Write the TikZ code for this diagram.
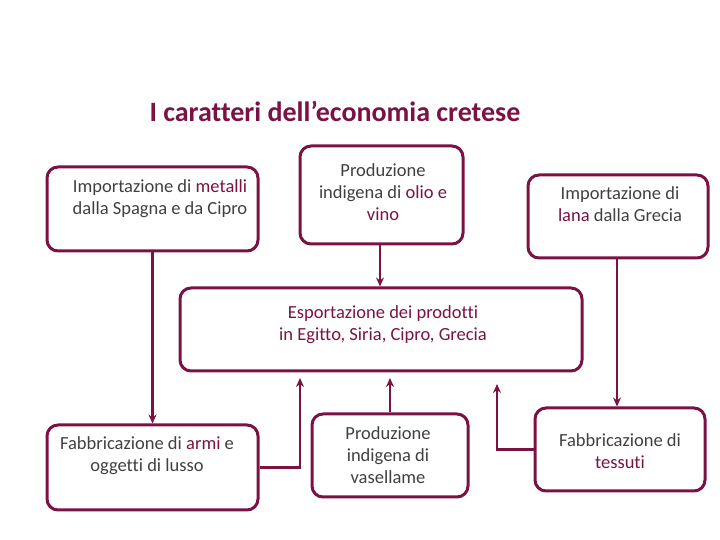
\documentclass[tikz,border=0pt]{standalone}
\usepackage{fontspec}
\setmainfont[Ligatures=NoCommon]{Carlito}
\usetikzlibrary{arrows.meta,calc}
\definecolor{maroon}{HTML}{7A1343}
\definecolor{txtgrey}{HTML}{404040}
\begin{document}
\begin{tikzpicture}[x=1pt,y=1pt,
  box/.style={draw=maroon,line width=3pt,rounded corners=11pt,inner sep=0pt},
  txt/.style={text=txtgrey,font=\fontsize{18.5}{22}\selectfont,align=center,inner sep=0pt},
  arr/.style={draw=maroon,line width=2.2pt,-{Stealth[length=9pt,width=8pt]}}]
\useasboundingbox (0,0) rectangle (720,540);
\newcommand{\hw}[1]{\textcolor{maroon}{#1}}
% title
\node[text=maroon,font=\fontsize{28}{32}\bfseries\selectfont,inner sep=0pt] (title) at (335,429) {I caratteri dell’economia cretese};
% boxes
\node[box,minimum width=211,minimum height=84] (A) at (152.5,331) {};
\node[box,minimum width=163,minimum height=98] (B) at (381.5,345) {};
\node[box,minimum width=180,minimum height=83] (C) at (618,323.5) {};
\node[box,minimum width=402,minimum height=83] (D) at (381,210.5) {};
\node[box,minimum width=211,minimum height=85] (E) at (152.5,72.5) {};
\node[box,minimum width=156,minimum height=83] (F) at (390,84.5) {};
\node[box,minimum width=170,minimum height=83] (G) at (620,90.5) {};
% texts
\node[txt] (At) at (160,341) {Importazione di \hw{metalli}\\dalla Spagna e da Cipro};
\node[txt] (Bt) at (383,348) {Produzione\\indigena di \hw{olio e}\\\hw{vino}};
\node[txt] (Ct) at (620,336) {Importazione di\\\hw{lana} dalla Grecia};
\node[txt,text=maroon] (Dt) at (383,215) {Esportazione dei prodotti\\in Egitto, Siria, Cipro, Grecia};
\node[txt] (Et) at (147,84) {Fabbricazione di \hw{armi} e\\oggetti di lusso};
\node[txt] (Ft) at (388,85) {Produzione\\indigena di\\vasellame};
\node[txt] (Gt) at (620,89) {Fabbricazione di\\\hw{tessuti}};
% connectors
\coordinate (ePt) at (300,162);
\coordinate (gPt) at (497,156);
\draw[arr] (A.south) -- (E.north);
\draw[arr] (B.south -| 380,0) -- (380,0 |- D.north);
\draw[arr] (C.south -| 617,0) -- (617,0 |- G.north);
\draw[arr] (E.east) -| (ePt);
\draw[arr] (F.north) -- (F.north |- ePt);
\draw[arr] (G.west) -| (gPt);
\end{tikzpicture}
\end{document}
